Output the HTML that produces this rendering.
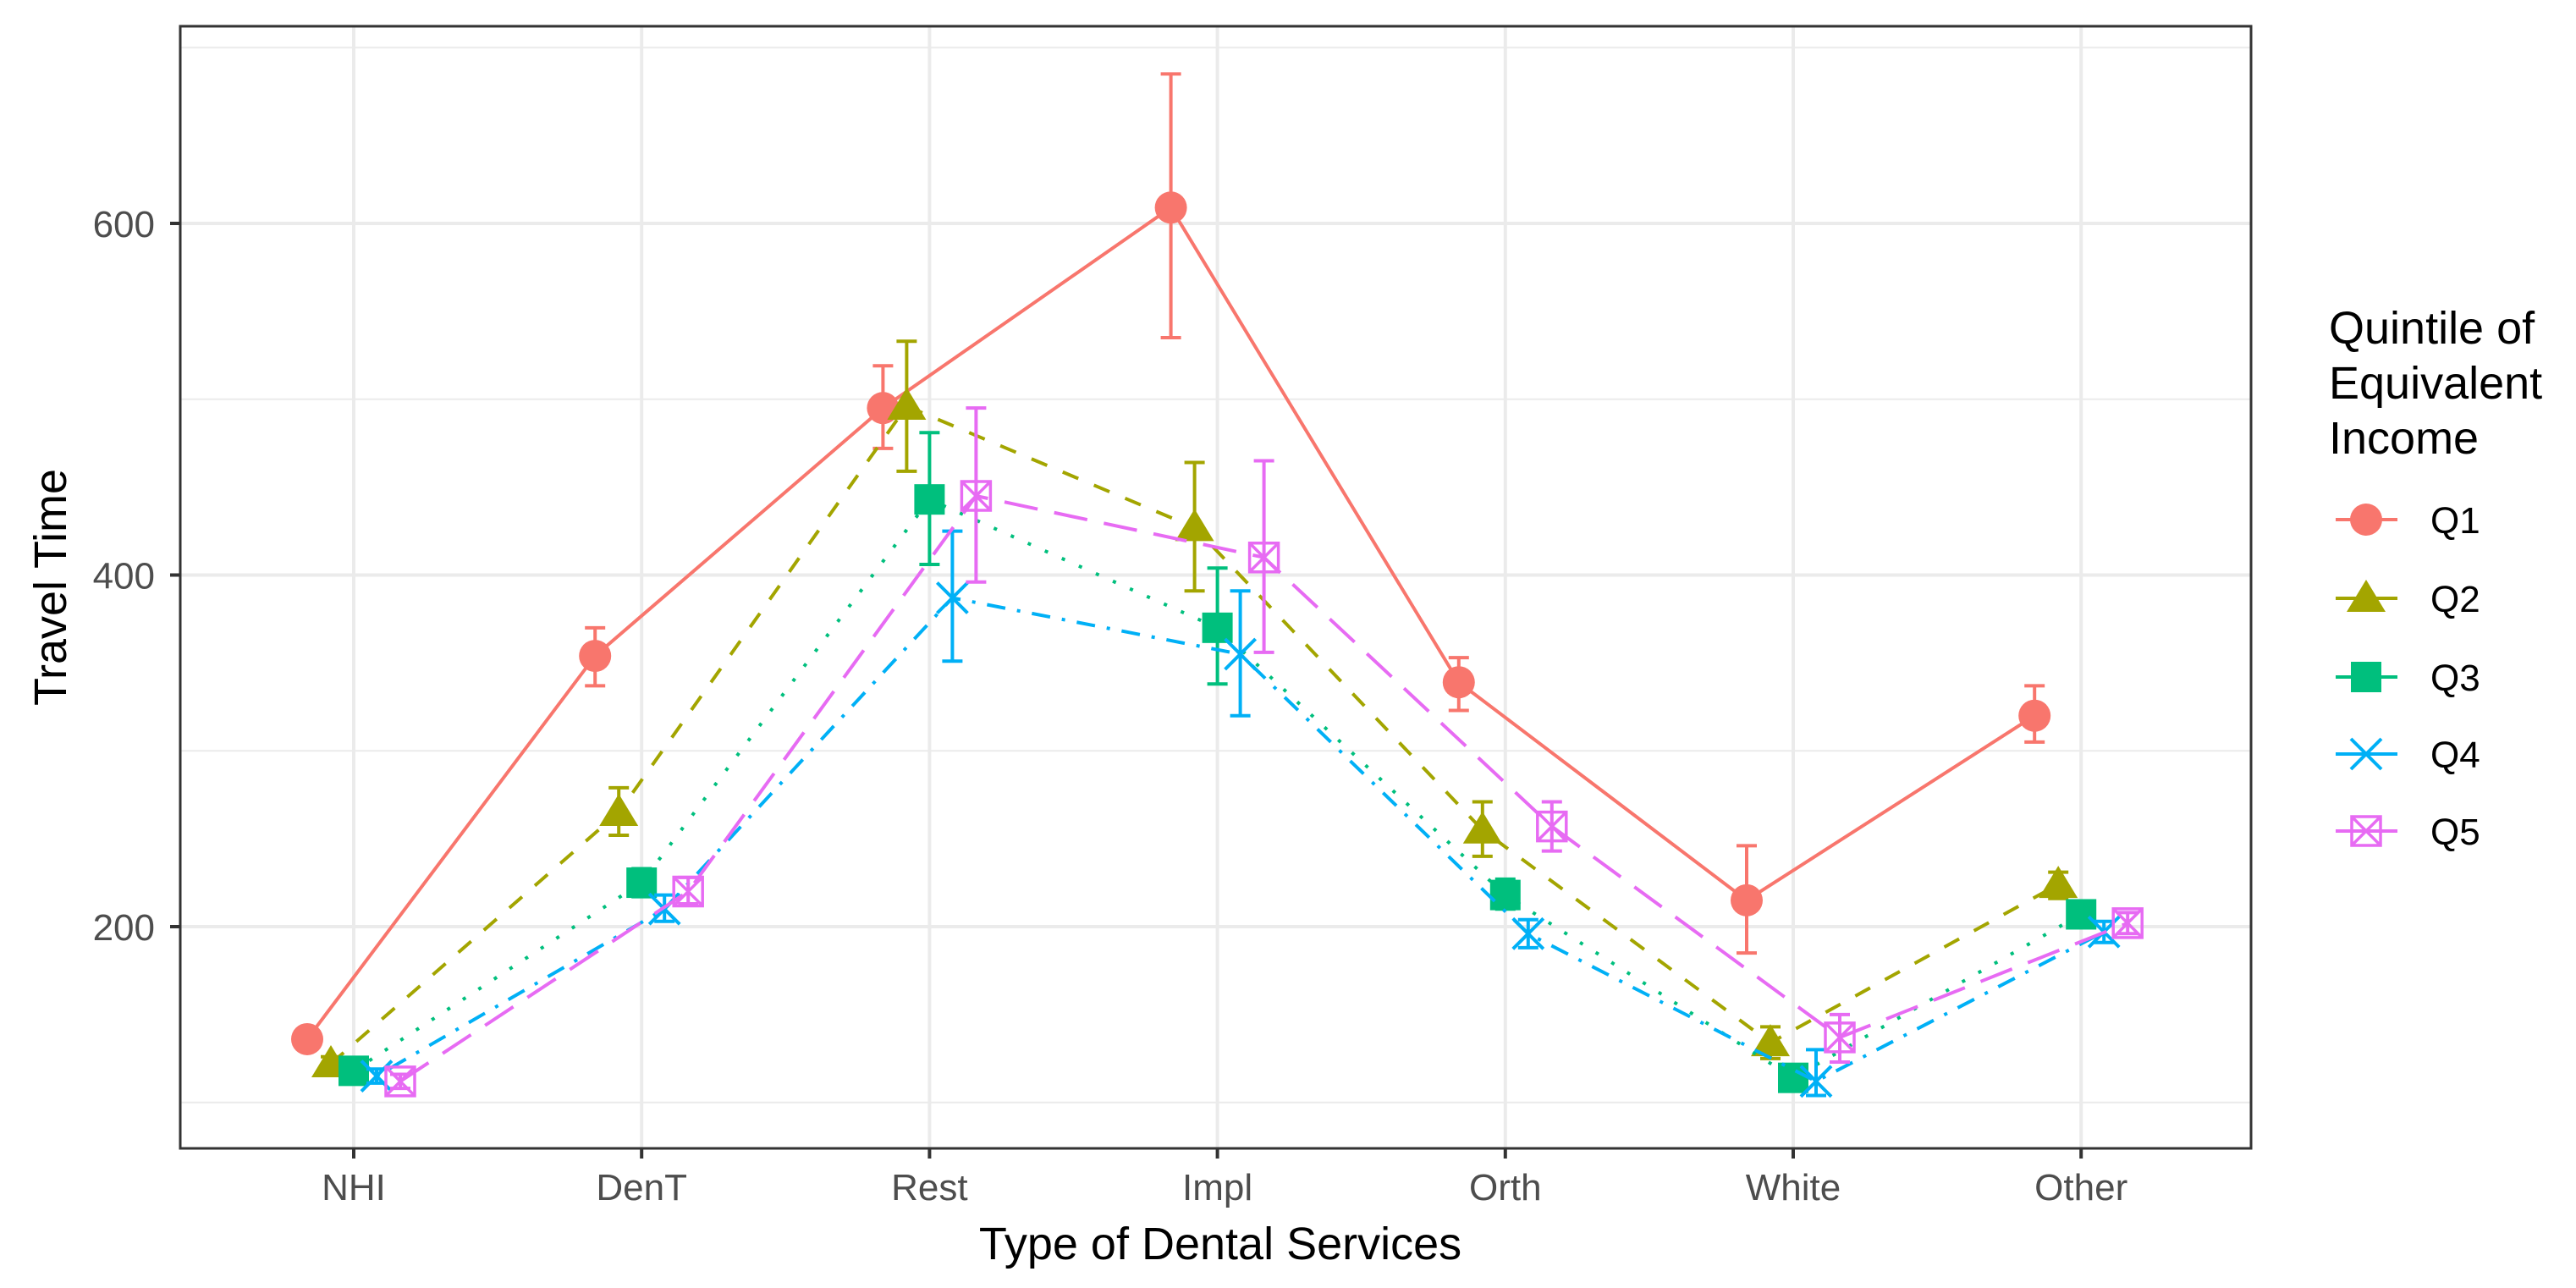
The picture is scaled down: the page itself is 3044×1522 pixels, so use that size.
<!DOCTYPE html>
<html><head><meta charset="utf-8"><style>
html,body{margin:0;padding:0;background:#fff;}
svg{display:block;font-family:"Liberation Sans",Arial,sans-serif;}
</style></head><body>
<svg id="chart" width="3044" height="1522" viewBox="0 0 3044 1522" xmlns="http://www.w3.org/2000/svg">
<rect x="0" y="0" width="3044" height="1522" fill="#fff"/>
<g id="grid"></g>
<g id="series"></g>
<rect x="213" y="31" width="2447" height="1326" fill="none" stroke="#333" stroke-width="3"/>
<g id="axes"></g>
<text x="0" y="0" transform="translate(78,694) rotate(-90)" text-anchor="middle" font-size="54" fill="#000">Travel Time</text>
<text x="1442" y="1488" text-anchor="middle" font-size="54" fill="#000">Type of Dental Services</text>
<g id="legend">
<text font-size="54" fill="#000"><tspan x="2752" y="406">Quintile of</tspan><tspan x="2752" y="471">Equivalent</tspan><tspan x="2752" y="536">Income</tspan></text>
</g>
</svg>
<script>
const categories = ["NHI","DenT","Rest","Impl","Orth","White","Other"];
const seriesNames = ["Q1","Q2","Q3","Q4","Q5"];
const q1 = [136,354,495,609,339,215,320];
const q2 = [122,265,496,427,255,134,224];
const q3 = [118,225,443,370,218,114,207];
const q4 = [115,210,387,355,196,112,197];
const q5 = [112,220,445,410,257,137,202];
const q1Lo = [131,337,472,535,323,185,305];
const q1Hi = [141,370,519,685,353,246,337];
const q2Lo = [118,252,459,391,240,125,216];
const q2Hi = [126,279,533,464,271,143,231];
const q3Lo = [114,217,406,338,210,108,200];
const q3Hi = [122,233,481,404,227,121,214];
const q4Lo = [111,203,351,320,188,104,191];
const q4Hi = [119,218,425,391,204,130,203];
const q5Lo = [108,213,396,356,243,123,196];
const q5Hi = [116,228,495,465,271,150,208];
const yTicks = [200,400,600];
const yMinor = [100,300,500,700];

const NS="http://www.w3.org/2000/svg";
function el(tag,attrs,parent){const e=document.createElementNS(NS,tag);for(const k in attrs)e.setAttribute(k,attrs[k]);parent.appendChild(e);return e;}
const X0=418, DX=340.2;
function xScale(i){return X0+i*DX;}
function yScale(v){return 1095-(v-200)*2.0775;}
const PL=213,PR=2660,PT=31,PB=1357;
const grid=document.getElementById('grid'), axes=document.getElementById('axes'), ser=document.getElementById('series'), leg=document.getElementById('legend');

yMinor.forEach(v=>{const l=el('line',{x1:PL,x2:PR,y1:yScale(v),y2:yScale(v),stroke:'#ebebeb','stroke-width':2},grid);

});
yTicks.forEach(v=>{const l=el('line',{x1:PL,x2:PR,y1:yScale(v),y2:yScale(v),stroke:'#ebebeb','stroke-width':4},grid);


const t=el('line',{x1:PL-12,x2:PL,y1:yScale(v),y2:yScale(v),stroke:'#333','stroke-width':4},axes);


const tx=el('text',{x:PL-30,y:yScale(v)+16,'text-anchor':'end','font-size':44,fill:'#4d4d4d'},axes);
tx.textContent=v;

});
categories.forEach((c,i)=>{const x=xScale(i);
const l=el('line',{x1:x,x2:x,y1:PT,y2:PB,stroke:'#ebebeb','stroke-width':4},grid);


const t=el('line',{x1:x,x2:x,y1:PB,y2:PB+12,stroke:'#333','stroke-width':4},axes);


const tx=el('text',{x:x,y:PB+61,'text-anchor':'middle','font-size':44,fill:'#4d4d4d'},axes);
tx.textContent=c;

});

const colors=["#F8766D","#A3A500","#00BF7D","#00B0F6","#E76BF3"];
const dashes=["none","20,20","4,18","4,14,22,14","40,20"];
const vals=[q1,q2,q3,q4,q5], los=[q1Lo,q2Lo,q3Lo,q4Lo,q5Lo], his=[q1Hi,q2Hi,q3Hi,q4Hi,q5Hi];
const dodge=[-55,-27,0,27,55];

function shape(k,cx,cy,g,c){
  if(k===0){el('circle',{cx:cx,cy:cy,r:19,fill:c},g);}
  else if(k===1){el('polygon',{points:`${cx},${cy-22} ${cx+23},${cy+16} ${cx-23},${cy+16}`,fill:c},g);}
  else if(k===2){el('rect',{x:cx-18,y:cy-18,width:36,height:36,fill:c},g);}
  else if(k===3){el('path',{d:`M${cx-18},${cy-18}L${cx+18},${cy+18}M${cx-18},${cy+18}L${cx+18},${cy-18}`,stroke:c,'stroke-width':4,fill:'none'},g);}
  else {el('path',{d:`M${cx-17},${cy-17}h34v34h-34zM${cx-17},${cy-17}L${cx+17},${cy+17}M${cx-17},${cy+17}L${cx+17},${cy-17}`,stroke:c,'stroke-width':3.5,fill:'none'},g);}
}

vals.forEach((arr,k)=>{
  const g=el('g',{},ser);
  
  
  const pts=arr.map((v,i)=>(xScale(i)+dodge[k])+','+yScale(v)).join(' ');
  const pl=el('polyline',{points:pts,fill:'none',stroke:colors[k],'stroke-width':4,'stroke-dasharray':dashes[k]},g);
  
  
  arr.forEach((v,i)=>{
    const x=xScale(i)+dodge[k], ylo=yScale(los[k][i]), yhi=yScale(his[k][i]);
    const eb=el('path',{d:`M${x},${yhi}V${ylo}M${x-12},${yhi}h24M${x-12},${ylo}h24`,stroke:colors[k],'stroke-width':4,fill:'none'},g);
    
    
  });
  arr.forEach((v,i)=>{
    const pg=el('g',{},g);
    
    
    shape(k,xScale(i)+dodge[k],yScale(v),pg,colors[k]);
  });
});

const ly=[614,707,800,891,982];
seriesNames.forEach((n,k)=>{
  const g=el('g',{},leg);
  
  
  el('line',{x1:2760,x2:2833,y1:ly[k],y2:ly[k],stroke:colors[k],'stroke-width':4},g);
  shape(k,2796,ly[k],g,colors[k]);
  const t=el('text',{x:2872,y:ly[k]+16,'font-size':44,fill:'#000'},g);
  t.textContent=n;
});
</script>
</body></html>
